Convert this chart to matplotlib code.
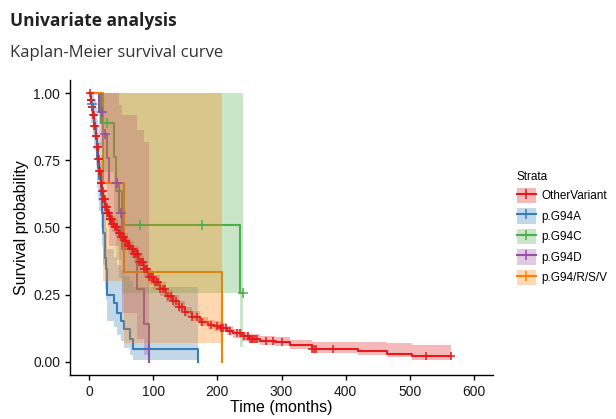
import numpy as np
import matplotlib.pyplot as plt
from matplotlib.patches import Patch
from matplotlib.lines import Line2D

# strata and colours (Set1)
strata = ["OtherVariant", "p.G94A", "p.G94C", "p.G94D", "p.G94/R/S/V"]
colors = ["#E41A1C", "#377EB8", "#4DAF4A", "#984EA3", "#FF7F00"]

# OtherVariant
red_time = [0, 2, 4, 6, 8, 10, 12, 14, 16, 18, 20, 22, 25, 28, 32, 36, 40, 45, 50,
            55, 60, 65, 70, 77, 85, 92, 100, 110, 120, 130, 140, 150, 160, 173, 185,
            195, 205, 215, 225, 238, 250, 267, 290, 314, 347, 420, 464, 503]
red_surv = [1.0, 0.975, 0.95, 0.92, 0.88, 0.84, 0.80, 0.755, 0.71, 0.665, 0.635, 0.605,
            0.575, 0.555, 0.53, 0.512, 0.50, 0.48, 0.463, 0.45, 0.432, 0.418, 0.40, 0.37,
            0.345, 0.315, 0.295, 0.27, 0.245, 0.225, 0.205, 0.185, 0.168, 0.148, 0.138,
            0.132, 0.126, 0.115, 0.105, 0.096, 0.085, 0.078, 0.074, 0.062, 0.047, 0.0385,
            0.0286, 0.020]
red_lower = [1.0, 0.96, 0.93, 0.895, 0.85, 0.81, 0.77, 0.725, 0.68, 0.635, 0.605, 0.575,
             0.545, 0.525, 0.50, 0.482, 0.47, 0.45, 0.433, 0.42, 0.402, 0.388, 0.37, 0.341,
             0.316, 0.287, 0.268, 0.245, 0.222, 0.203, 0.185, 0.166, 0.15, 0.131, 0.121,
             0.115, 0.109, 0.098, 0.088, 0.078, 0.068, 0.062, 0.058, 0.047, 0.032, 0.026,
             0.016, 0.006]
red_upper = [1.0, 0.99, 0.97, 0.945, 0.91, 0.87, 0.83, 0.785, 0.74, 0.695, 0.665, 0.635,
             0.605, 0.585, 0.56, 0.542, 0.53, 0.51, 0.493, 0.48, 0.462, 0.448, 0.43, 0.399,
             0.374, 0.343, 0.322, 0.295, 0.268, 0.247, 0.226, 0.205, 0.187, 0.166, 0.156,
             0.15, 0.143, 0.132, 0.122, 0.112, 0.102, 0.095, 0.09, 0.08, 0.074, 0.072,
             0.068, 0.063]
red_end = 564
red_cens = [1, 2, 3, 4, 5, 6, 7, 8, 9, 10, 11, 12, 13, 14, 15, 16, 17, 18, 19, 20, 21,
            22, 23, 24, 25, 26, 27, 28, 29, 30, 31, 32, 33, 34, 35, 36, 38, 40, 42, 44,
            46, 48, 50, 52, 54, 56, 58, 60, 62, 64, 66, 68, 70, 72, 74, 76, 78, 80, 82,
            84, 86, 88, 90, 93, 96, 99, 102, 105, 108, 111, 115, 119, 123, 127, 131, 135,
            140, 145, 150, 160, 168, 176, 190, 200, 205, 208, 213, 220, 230, 236, 241,
            248, 251, 254, 256, 259, 262, 276, 286, 300, 347, 350, 354, 381, 526, 564]

# p.G94A
blue_time = [0, 3, 6, 8, 10, 12, 14, 16, 18, 20, 22, 24, 25, 26, 27, 28, 38, 43, 49,
             54, 64, 69, 170]
blue_surv = [1.0, 0.96, 0.92, 0.88, 0.83, 0.76, 0.72, 0.68, 0.62, 0.555, 0.48, 0.42,
             0.385, 0.345, 0.30, 0.25, 0.22, 0.183, 0.152, 0.121, 0.084, 0.047, 0.0]
blue_lower = [1.0, 0.89, 0.84, 0.79, 0.73, 0.65, 0.60, 0.56, 0.50, 0.43, 0.36, 0.30,
              0.27, 0.23, 0.19, 0.15, 0.13, 0.10, 0.075, 0.05, 0.025, 0.005, 0.0]
blue_upper = [1.0, 1.0, 1.0, 0.98, 0.95, 0.90, 0.86, 0.82, 0.77, 0.71, 0.64, 0.58,
              0.54, 0.50, 0.46, 0.42, 0.39, 0.36, 0.34, 0.32, 0.30, 0.28, 0.0]
blue_end = 170
blue_cens = [5]

# p.G94C
green_time = [0, 18, 38, 42, 51, 235.6]
green_surv = [1.0, 0.889, 0.762, 0.635, 0.508, 0.254]
green_lower = [1.0, 0.706, 0.52, 0.377, 0.257, 0.056]
green_upper = [1.0, 1.0, 1.0, 1.0, 1.0, 1.0]
green_end = 240
green_cens = [27.6, 78.5, 176.7, 240]

# p.G94D
purple_time = [0, 15, 22, 28, 31, 46, 51, 74, 86, 94]
purple_surv = [1.0, 0.93, 0.85, 0.76, 0.666, 0.555, 0.418, 0.27, 0.14, 0.0]
purple_lower = [1.0, 0.80, 0.67, 0.54, 0.43, 0.31, 0.18, 0.083, 0.024, 0.0]
purple_upper = [1.0, 1.0, 1.0, 1.0, 1.0, 0.957, 0.92, 0.864, 0.82, 0.0]
purple_end = 94
purple_cens = [19.7, 25, 43, 49.7]

# p.G94/R/S/V
orange_time = [0, 21, 54.6, 207]
orange_surv = [1.0, 0.667, 0.333, 0.0]
orange_lower = [1.0, 0.30, 0.07, 0.0]
orange_upper = [1.0, 1.0, 1.0, 0.0]
orange_end = 207
orange_cens = []

curves = [
    (red_time, red_surv, red_lower, red_upper, red_end, red_cens),
    (blue_time, blue_surv, blue_lower, blue_upper, blue_end, blue_cens),
    (green_time, green_surv, green_lower, green_upper, green_end, green_cens),
    (purple_time, purple_surv, purple_lower, purple_upper, purple_end, purple_cens),
    (orange_time, orange_surv, orange_lower, orange_upper, orange_end, orange_cens),
]
mark_size = [5.5, 7, 7, 7, 7]

fig = plt.figure(figsize=(6.16, 4.19), dpi=100)
ax = fig.add_axes([70 / 616, 44 / 419, 423 / 616, 295 / 419])

for (t, s, lo, up, end, cens), col, ms in zip(curves, colors, mark_size):
    t = np.asarray(t, float)
    s = np.asarray(s, float)
    lo = np.asarray(lo, float)
    up = np.asarray(up, float)
    # curve: step after each time, carried to the last follow-up
    if t[-1] < end:
        tt = np.append(t, end)
        ss = np.append(s, s[-1])
        ll = np.append(lo, lo[-1])
        uu = np.append(up, up[-1])
    else:
        tt, ss, ll, uu = t, s, lo, up
    ax.step(tt, ss, where="post", color=col, lw=1.5, zorder=2)
    # ribbon stops where the curve hits zero
    keep = ss > 0
    keep[np.argmax(~keep) if (~keep).any() else len(keep) - 1] = True
    ax.fill_between(tt[keep], ll[keep], uu[keep], step="post",
                    color=col, alpha=0.3, lw=0, zorder=3)
    # censor marks
    if len(cens):
        c = np.asarray(cens, float)
        idx = np.searchsorted(t, c, side="right") - 1
        ax.plot(c, s[idx], ls="none", marker="+", ms=ms, mew=1.1,
                color=col, zorder=4)

ax.set_xlim(-30, 630)
ax.set_ylim(-0.05, 1.05)
ax.set_xticks([0, 100, 200, 300, 400, 500, 600])
ax.set_yticks([0, 0.25, 0.5, 0.75, 1.0])
ax.set_yticklabels(["0.00", "0.25", "0.50", "0.75", "1.00"])
for side in ["top", "right"]:
    ax.spines[side].set_visible(False)
for side in ["left", "bottom"]:
    ax.spines[side].set_linewidth(1.0)
ax.tick_params(length=3.5, width=1.0, labelsize=10, colors="black",
               labelcolor="#1a1a1a")
for lab in ax.get_xticklabels() + ax.get_yticklabels():
    lab.set_family("Liberation Sans")
ax.set_xlabel("Time (months)", fontsize=11.5, family="Liberation Sans", labelpad=1)
ax.set_ylabel("Survival probability", fontsize=11.5, family="Liberation Sans",
              labelpad=3)

fig.text(10 / 616, 1 - 26 / 419, "Univariate analysis", fontsize=12.5,
         fontweight="bold", family="Open Sans", color="#222222")
fig.text(10 / 616, 1 - 57 / 419, "Kaplan-Meier survival curve", fontsize=12,
         family="Open Sans", color="#333333")

# legend: ribbon box with line and cross
handles = []
for col in colors:
    handles.append((Patch(facecolor=col, alpha=0.3, lw=0),
                    Line2D([], [], color=col, lw=1.5, marker="+", ms=7, mew=1.1)))
leg = fig.legend(handles, strata, title="Strata", loc="upper left",
                 bbox_to_anchor=(506 / 616, 1 - 160 / 419), frameon=False,
                 prop={"family": "Liberation Sans", "size": 8.5},
                 handlelength=1.6, handleheight=1.6, handletextpad=0.5,
                 labelspacing=0.45, alignment="left")
leg.get_title().set_family("Liberation Sans")
leg.get_title().set_fontsize(8.5)

fig.savefig("out.png", dpi=100)
